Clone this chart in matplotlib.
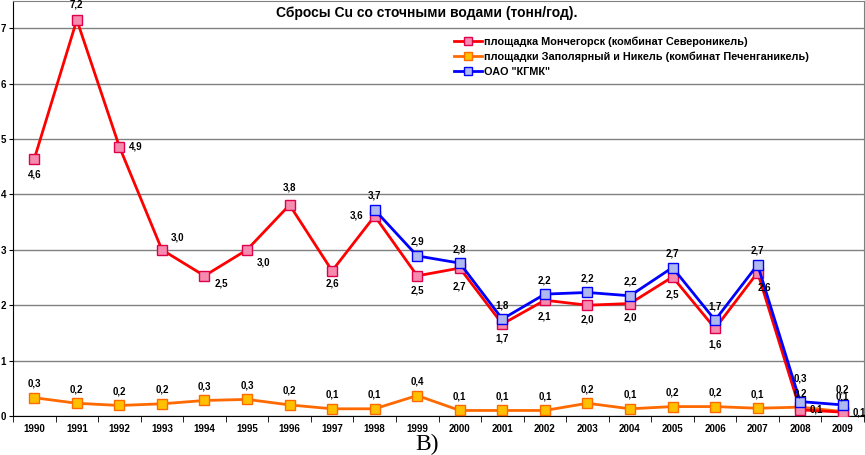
import matplotlib
matplotlib.use('Agg')
from matplotlib import pyplot as plt
import numpy as np

#--- data

years = list(range(1990, 2010))
monchegorsk = [4.64, 7.15, 4.86, 3.0, 2.53, 3.0, 3.81, 2.62, 3.61, 2.53,
               2.67, 1.66, 2.09, 2.0, 2.03, 2.51, 1.58, 2.59, 0.11, 0.07]
pechenga = [0.33, 0.23, 0.19, 0.22, 0.28, 0.30, 0.20, 0.13, 0.13, 0.37,
            0.10, 0.10, 0.10, 0.23, 0.13, 0.17, 0.17, 0.14, 0.16, 0.08]
kgmk_years = list(range(1998, 2010))
kgmk = [3.72, 2.89, 2.76, 1.75, 2.2, 2.23, 2.17, 2.68, 1.73, 2.73, 0.26, 0.2]

names = ['площадка Мончегорск (комбинат Североникель)',
         'площадки Заполярный и Никель (комбинат Печенганикель)',
         'ОАО "КГМК"']
title = 'Сбросы Cu со сточными водами (тонн/год).'

# label offsets in pixels (dx, dy up)
red_off = [(0, -16), (0, 15), (16, 0), (16, 12), (17, -8), (16, -13), (0, 17),
           (0, -13), (-18, 1), (0, -15), (0, -18), (0, -14), (0, -16), (0, -14),
           (0, -14), (0, -18), (0, -16), (7, -15), (16, 0), (17, 0)]
org_off = [(0, 14)] * 19 + [(0, 15)]
blu_off = [(0, 14)] * 10 + [(0, 23), (0, 15)]

plt.rcParams['font.family'] = ['Liberation Sans', 'DejaVu Sans']

fig = plt.figure(figsize=(8.65, 4.55), dpi=100)
ax = fig.add_axes([13 / 865, 39 / 455, 851 / 865, 1 - 39 / 455 - 0.5 / 455])

x = np.arange(len(years))
xk = np.array([years.index(y) for y in kgmk_years])

ax.plot(x, pechenga, '-s', color='#FF6A00', lw=2.0, ms=7,
        mfc='#FFC000', mec='#FF6A00', mew=1.0, label=names[1], zorder=3)
ax.plot(x, monchegorsk, '-s', color='#FF0000', lw=2.0, ms=7,
        mfc='#F58CB0', mec='#E0004A', mew=1.0, label=names[0], zorder=4)
ax.plot(xk, kgmk, '-s', color='#0000FF', lw=2.0, ms=7,
        mfc='#B0B8F0', mec='#0000FF', mew=1.0, label=names[2], zorder=5)

def fmt(v):
    return ('%.1f' % v).replace('.', ',')

def labels(xs, vals, offs):
    for xi, v, (dx, dy) in zip(xs, vals, offs):
        ax.annotate(fmt(v), (xi, v), xytext=(dx / 1.389, dy / 1.389),
                    textcoords='offset points', ha='center', va='center',
                    fontsize=7, fontweight='bold', zorder=6)

labels(x, monchegorsk, red_off)
labels(x, pechenga, org_off)
labels(xk, kgmk, blu_off)

ax.set_xlim(-0.5, len(years) - 0.5)
ax.set_ylim(0, 7.5)
ax.set_yticks(range(0, 8))
ax.set_yticklabels([str(i) for i in range(8)], fontsize=7, fontweight='bold')
ax.set_xticks(x)
ax.set_xticklabels([str(y) for y in years], fontsize=7, fontweight='bold')
ax.set_xticks(np.arange(-0.5, len(years), 1), minor=True)
ax.tick_params(axis='x', which='major', length=0, pad=6)
ax.tick_params(axis='x', which='minor', length=4, direction='out')
ax.tick_params(axis='y', length=3, pad=2)
ax.grid(axis='y', color='#808080', lw=1.0)
ax.set_axisbelow(True)
for s in ['top', 'right']:
    ax.spines[s].set_color('#808080')
for s in ['left', 'bottom']:
    ax.spines[s].set_color('black')

h, l = ax.get_legend_handles_labels()
order = [1, 0, 2]
leg = ax.legend([h[i] for i in order], [l[i] for i in order],
                loc='upper left', bbox_to_anchor=(0.508, 0.935),
                frameon=True, fancybox=False, edgecolor='white',
                prop={'size': 7.8, 'weight': 'bold'}, handlelength=2.6,
                handletextpad=0.15, labelspacing=0.45, borderpad=0.3)
leg.get_frame().set_alpha(1.0)
for ln in leg.get_lines():
    ln.set_markersize(6)

fig.text(427 / 865, 1 - 13 / 455, title, ha='center', va='center',
         fontsize=10, fontweight='bold')
fig.text(427 / 865, 1 - 444 / 455, 'В)', ha='center', va='center',
         fontsize=17, family=['Liberation Serif', 'DejaVu Serif'])

fig.savefig('out.png', dpi=100)
plt.close()
